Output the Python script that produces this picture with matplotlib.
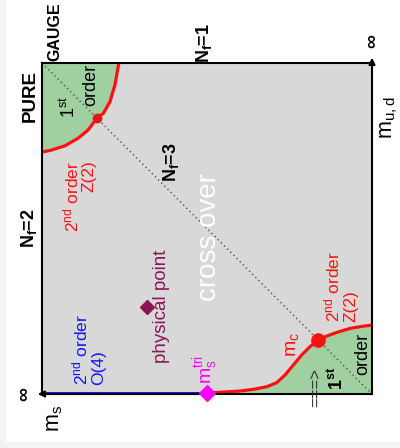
import numpy as np
import matplotlib
matplotlib.use("Agg")
import matplotlib.pyplot as plt
from matplotlib.patches import Rectangle

plt.rcParams['font.family'] = ['Liberation Sans', 'DejaVu Sans']
plt.rcParams['mathtext.default'] = 'regular'

# frontera de la region de 1er orden cerca del limite quiral (m_s, m_ud)
ms_chiral = [0.0, 0.026, 0.067, 0.107, 0.137, 0.163, 0.188, 0.213, 0.238,
             0.264, 0.289, 0.319, 0.360, 0.400, 0.430, 0.500]
mud_chiral = [0.208, 0.205, 0.198, 0.186, 0.175, 0.163, 0.143, 0.118, 0.088,
              0.057, 0.034, 0.022, 0.014, 0.009, 0.007, 0.003]

# frontera de la region de 1er orden cerca del limite de gauge puro
ms_gauge = [0.767, 0.779, 0.794, 0.814, 0.833, 0.860, 0.890, 0.930, 0.971, 1.0]
mud_gauge = [1.0, 0.934, 0.883, 0.848, 0.834, 0.798, 0.773, 0.750, 0.737, 0.731]

# puntos especiales
ms_tri, mud_tri = 0.500, 0.003
ms_c, mud_c = 0.163, 0.163
ms_cg, mud_cg = 0.833, 0.834
ms_fis, mud_fis = 0.682, 0.263

rojo = '#ff1010'
azul = '#1414ff'
verde = '#a0d0a0'
gris = '#d8d8d8'

fig = plt.figure(figsize=(4.0, 4.48), dpi=100)
fig.patch.set_facecolor('#f3f3f3')
fig.patches.append(Rectangle((6/400, 6/448), 1, 1, transform=fig.transFigure,
                             facecolor='white', edgecolor='none', zorder=-10))
ax = fig.add_axes([42/400, 54/448, 330/400, 331/448], zorder=1)
ax.set_facecolor(gris)
ax.set_xlim(1, 0)
ax.set_ylim(0, 1)
ax.set_xticks([])
ax.set_yticks([])
for s in ax.spines.values():
    s.set_linewidth(1.5)
    s.set_color('black')

# regiones de 1er orden
ax.fill_between(ms_chiral, 0, mud_chiral, color=verde, lw=0)
ax.fill_between(ms_gauge, mud_gauge, 1, color=verde, lw=0)

# diagonal N_f=3
ax.plot([1, 0], [1, 0], color='#505050', lw=1, ls=(0, (1, 2.2)))

# lineas de 2do orden
ax.plot(ms_chiral, mud_chiral, color=rojo, lw=2.3, solid_capstyle='butt')
ax.plot(ms_gauge, mud_gauge, color=rojo, lw=2.3)
ax.plot([ms_tri, 1], [0.004, 0.004], color=azul, lw=2.2, clip_on=False)

# puntos
ax.plot(ms_c, mud_c, 'o', color=rojo, ms=9.5, zorder=5)
ax.plot(ms_cg, mud_cg, 'o', color='#e01818', ms=6, zorder=5)
ax.plot(ms_tri, mud_tri, 'D', color='#ff00ff', ms=8, zorder=5, clip_on=False)
ax.plot(ms_fis, mud_fis, 'D', color='#8c1455', ms=7.5, zorder=5)

# flechas de los ejes
ax.annotate('', xy=(1.013, 0), xytext=(0.99, 0), annotation_clip=False,
            arrowprops=dict(arrowstyle='-|>', color='black', lw=1.5,
                            mutation_scale=9, shrinkA=0, shrinkB=0))
ax.annotate('', xy=(0, 1.016), xytext=(0, 0.99), annotation_clip=False,
            arrowprops=dict(arrowstyle='-|>', color='black', lw=1.5,
                            mutation_scale=9, shrinkA=0, shrinkB=0))

def rot(x, y, s, **kw):
    kw.setdefault('fontsize', 12.5)
    ax.text(x, y, s, rotation=90, ha='center', va='center', clip_on=False, **kw)

rot(1.036, 0.900, 'PURE', fontsize=13.5, fontweight='bold')
rot(0.962, 1.094, 'GAUGE', fontsize=11.5, fontweight='bold')
rot(0.509, 1.060, 'N$_f$=1', fontsize=13, fontweight='bold')
rot(1.039, 0.502, 'N$_f$=2', fontsize=13, fontweight='bold')
rot(0.609, 0.701, 'N$_f$=3', fontsize=13, fontweight='bold')
rot(-0.003, 1.066, '∞', fontsize=14, fontweight='bold')
rot(1.052, 0.0, '∞', fontsize=14, fontweight='bold')
rot(-0.052, 0.834, 'm$_{u,d}$', fontsize=15.5)
rot(0.961, -0.073, 'm$_s$', fontsize=15.5)

rot(0.495, 0.474, 'cross over', fontsize=20, color='white')
rot(0.639, 0.266, 'physical point', fontsize=13.5, color='#8c1455')
rot(0.503, 0.073, 'm$_s^{tri}$', fontsize=14, color='#ff00ff')
rot(0.242, 0.148, 'm$_c$', fontsize=14, color=rojo)

rot(0.888, 0.598, '2$^{nd}$ order\nZ(2)', color=rojo, multialignment='right',
    linespacing=1.05)
rot(0.095, 0.326, '2$^{nd}$ order\nZ(2)', color=rojo, multialignment='left',
    linespacing=1.05)
rot(0.859, 0.133, '2$^{nd}$ order\nO(4)', color=azul, multialignment='left',
    linespacing=1.05)

rot(0.917, 0.867, '1$^{st}$', fontsize=13)
rot(0.852, 0.934, 'order', fontsize=13)
rot(0.105, 0.047, '1$^{st}$', fontsize=13, fontweight='bold')
rot(0.029, 0.122, 'order', fontsize=13)
rot(0.170, 0.021, '===>', fontsize=12, color='#333333')

fig.savefig('out.png', dpi=100)
